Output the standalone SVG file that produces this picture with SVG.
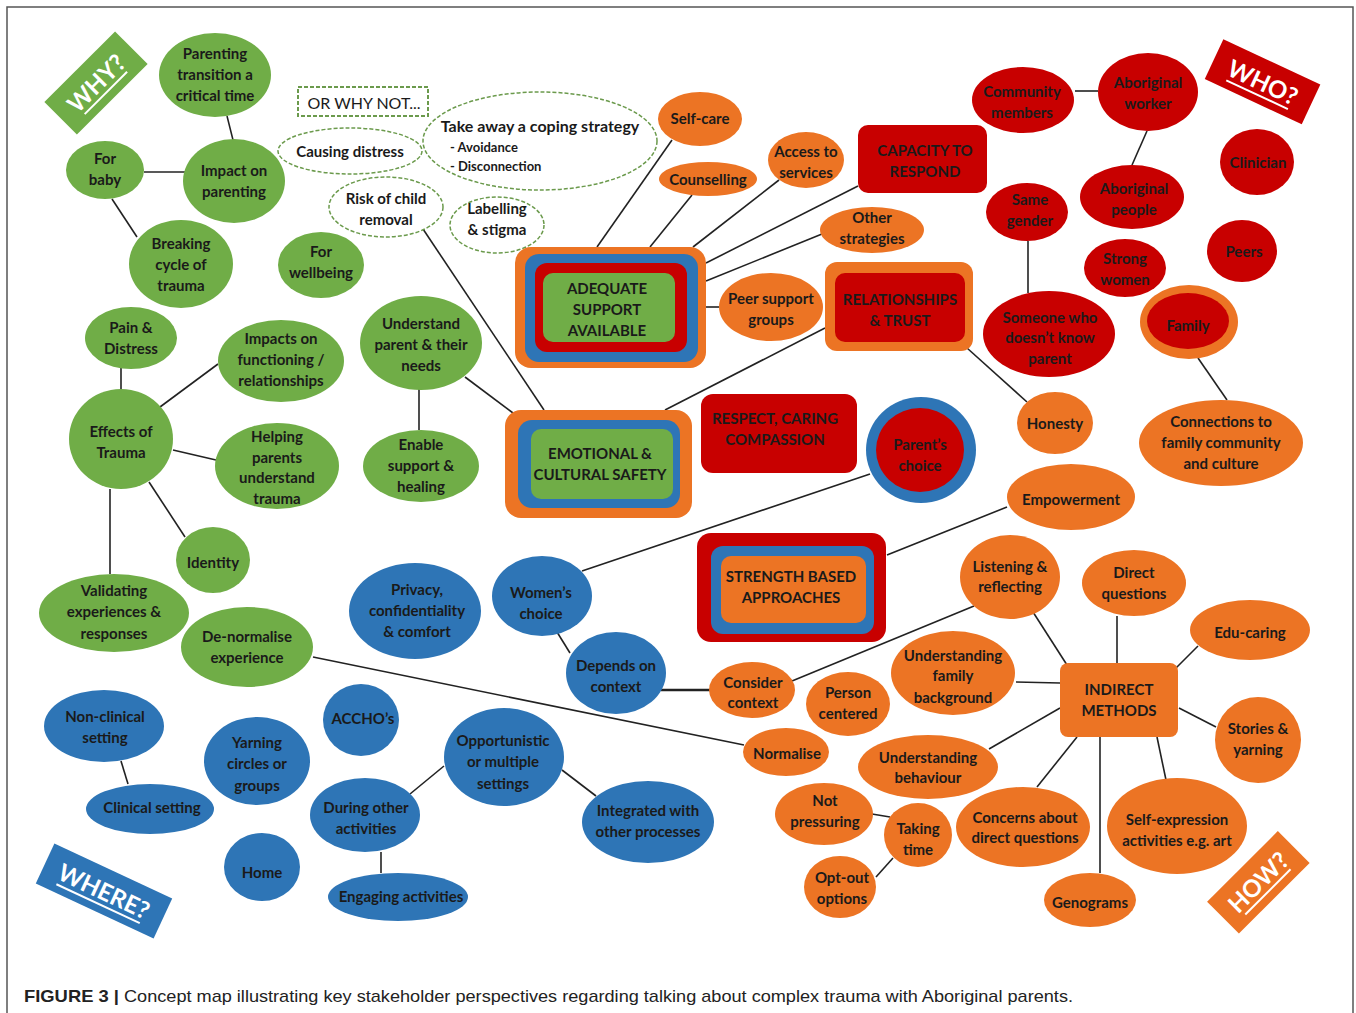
<svg xmlns="http://www.w3.org/2000/svg" width="1356" height="1013" viewBox="0 0 1356 1013">
<style>
.g{fill:#70AD47}
.o{fill:#EC7424}
.r{fill:#C80000}
.b{fill:#2E75B6}
.d{fill:#fff;stroke:#6B9A4C;stroke-width:1.5;stroke-dasharray:4 2}
.t{font-family:Lato,"Open Sans",sans-serif;font-weight:bold;font-size:15px;fill:#1a1a1a;text-anchor:middle}
.s{font-family:Lato,"Open Sans",sans-serif;font-weight:bold;font-size:13px;fill:#1a1a1a}
.bn{font-family:Lato,"Open Sans",sans-serif;font-weight:bold;font-size:24px;fill:#fff;text-anchor:middle}
.ul{stroke:#fff;stroke-width:2}
#connectors line{stroke:#222;stroke-width:1.6}
.cap{font-family:"Liberation Sans",Arial,sans-serif;font-size:17px;fill:#222}
</style>
<rect width="1356" height="1013" fill="#fff"/>
<path d="M7,1013 V7 H1353 V1013" fill="none" stroke="#555" stroke-width="1.5"/>

<g id="connectors">
<line x1="227" y1="116" x2="233" y2="140"/>
<line x1="144" y1="172" x2="185" y2="172"/>
<line x1="112" y1="199" x2="137" y2="237"/>
<line x1="121" y1="368" x2="121" y2="389"/>
<line x1="160" y1="407" x2="218" y2="364"/>
<line x1="173" y1="450" x2="216" y2="460"/>
<line x1="149" y1="482" x2="185" y2="537"/>
<line x1="110" y1="489" x2="110" y2="574"/>
<line x1="419" y1="389" x2="419" y2="430"/>
<line x1="465" y1="377" x2="513" y2="413"/>
<line x1="423" y1="229" x2="544" y2="410"/>
<line x1="825" y1="328" x2="665" y2="410"/>
<line x1="597" y1="247" x2="672" y2="140"/>
<line x1="650" y1="247" x2="692" y2="195"/>
<line x1="693" y1="247" x2="779" y2="180"/>
<line x1="706" y1="263" x2="858" y2="186"/>
<line x1="706" y1="281" x2="822" y2="234"/>
<line x1="706" y1="307" x2="719" y2="307"/>
<line x1="967" y1="348" x2="1027" y2="402"/>
<line x1="1075" y1="91" x2="1098" y2="91"/>
<line x1="1147" y1="131" x2="1132" y2="165"/>
<line x1="1028" y1="241" x2="1028" y2="293"/>
<line x1="1198" y1="358" x2="1227" y2="400"/>
<line x1="582" y1="571" x2="870" y2="474"/>
<line x1="887" y1="555" x2="1007" y2="507"/>
<line x1="557" y1="632" x2="570" y2="653"/>
<line x1="661" y1="690" x2="710" y2="690" style="stroke-width:2.5"/>
<line x1="792" y1="681" x2="974" y2="606"/>
<line x1="313" y1="657" x2="744" y2="745"/>
<line x1="1033" y1="612" x2="1067" y2="665"/>
<line x1="1117" y1="616" x2="1117" y2="663"/>
<line x1="1198" y1="646" x2="1176" y2="668"/>
<line x1="1016" y1="682" x2="1060" y2="683"/>
<line x1="989" y1="749" x2="1060" y2="708"/>
<line x1="1037" y1="787" x2="1077" y2="737"/>
<line x1="1100" y1="737" x2="1100" y2="873"/>
<line x1="1166" y1="780" x2="1157" y2="737"/>
<line x1="1216" y1="727" x2="1179" y2="708"/>
<line x1="872" y1="814" x2="890" y2="817"/>
<line x1="893" y1="858" x2="876" y2="877"/>
<line x1="121" y1="761" x2="128" y2="784"/>
<line x1="410" y1="794" x2="444" y2="766"/>
<line x1="381" y1="852" x2="381" y2="873"/>
<line x1="562" y1="770" x2="596" y2="796"/>
</g>

<!-- WHY cluster -->
<g id="why-banner" transform="translate(96,83) rotate(-45)"><rect class="g" x="-50" y="-23" width="100" height="46"/><text class="bn" x="0" y="9">WHY?</text><line class="ul" x1="-30" y1="14" x2="30" y2="14"/></g>
<g id="parenting-transition"><ellipse class="g" cx="215" cy="75" rx="56" ry="42"/><text class="t"><tspan x="215" y="59">Parenting</tspan><tspan x="215" y="80">transition a</tspan><tspan x="215" y="101">critical time</tspan></text></g>
<g id="impact-parenting"><ellipse class="g" cx="234" cy="181" rx="51" ry="42"/><text class="t"><tspan x="234" y="176">Impact on</tspan><tspan x="234" y="197">parenting</tspan></text></g>
<g id="for-baby"><ellipse class="g" cx="105" cy="170" rx="39" ry="29"/><text class="t"><tspan x="105" y="164">For</tspan><tspan x="105" y="185">baby</tspan></text></g>
<g id="breaking-cycle"><ellipse class="g" cx="181" cy="264" rx="52" ry="44"/><text class="t"><tspan x="181" y="249">Breaking</tspan><tspan x="181" y="270">cycle of</tspan><tspan x="181" y="291">trauma</tspan></text></g>
<g id="for-wellbeing"><ellipse class="g" cx="321" cy="265" rx="43" ry="33"/><text class="t"><tspan x="321" y="257">For</tspan><tspan x="321" y="278">wellbeing</tspan></text></g>
<g id="pain-distress"><ellipse class="g" cx="131" cy="338" rx="46" ry="31"/><text class="t"><tspan x="131" y="333">Pain &amp;</tspan><tspan x="131" y="354">Distress</tspan></text></g>
<g id="impacts-functioning"><ellipse class="g" cx="281" cy="361" rx="63" ry="41"/><text class="t"><tspan x="281" y="344">Impacts on</tspan><tspan x="281" y="365">functioning /</tspan><tspan x="281" y="386">relationships</tspan></text></g>
<g id="effects-trauma"><ellipse class="g" cx="121" cy="439" rx="52" ry="50"/><text class="t"><tspan x="121" y="437">Effects of</tspan><tspan x="121" y="458">Trauma</tspan></text></g>
<g id="helping-parents"><ellipse class="g" cx="277" cy="466" rx="62" ry="43"/><text class="t"><tspan x="277" y="442">Helping</tspan><tspan x="277" y="463">parents</tspan><tspan x="277" y="483">understand</tspan><tspan x="277" y="504">trauma</tspan></text></g>
<g id="understand-parent"><ellipse class="g" cx="421" cy="343" rx="61" ry="47"/><text class="t"><tspan x="421" y="329">Understand</tspan><tspan x="421" y="350">parent &amp; their</tspan><tspan x="421" y="371">needs</tspan></text></g>
<g id="enable-support"><ellipse class="g" cx="421" cy="466" rx="58" ry="36"/><text class="t"><tspan x="421" y="450">Enable</tspan><tspan x="421" y="471">support &amp;</tspan><tspan x="421" y="492">healing</tspan></text></g>
<g id="identity"><ellipse class="g" cx="213" cy="560" rx="37" ry="33"/><text class="t" x="213" y="568">Identity</text></g>
<g id="validating"><ellipse class="g" cx="114" cy="613" rx="75" ry="39"/><text class="t"><tspan x="114" y="596">Validating</tspan><tspan x="114" y="617">experiences &amp;</tspan><tspan x="114" y="639">responses</tspan></text></g>
<g id="de-normalise"><ellipse class="g" cx="247" cy="647" rx="66" ry="40"/><text class="t"><tspan x="247" y="642">De-normalise</tspan><tspan x="247" y="663">experience</tspan></text></g>

<!-- OR WHY NOT -->
<g id="or-why-not"><rect class="d" x="298" y="87" width="130" height="29" style="stroke-width:2"/><text x="364" y="109" style="font-family:Lato,'Open Sans',sans-serif;font-size:16px;fill:#1a1a1a;text-anchor:middle">OR WHY NOT...</text></g>
<g id="causing-distress"><ellipse class="d" cx="350" cy="151" rx="72" ry="23"/><text class="t" x="350" y="157">Causing distress</text></g>
<g id="take-away"><ellipse class="d" cx="540" cy="141" rx="117" ry="49"/><text class="t" x="540" y="132" style="font-size:16px">Take away a coping strategy</text><text class="s" x="450" y="152">- Avoidance</text><text class="s" x="450" y="171">- Disconnection</text></g>
<g id="risk-removal"><ellipse class="d" cx="386" cy="207" rx="57" ry="30"/><text class="t"><tspan x="386" y="204">Risk of child</tspan><tspan x="386" y="225">removal</tspan></text></g>
<g id="labelling-stigma"><ellipse class="d" cx="497" cy="225" rx="47" ry="28"/><text class="t"><tspan x="497" y="214">Labelling</tspan><tspan x="497" y="235">&amp; stigma</tspan></text></g>

<!-- Central boxes -->
<g id="adequate-support"><rect class="o" x="515" y="247" width="191" height="121" rx="16"/><rect class="b" x="525" y="254" width="173" height="108" rx="14"/><rect class="r" x="535" y="263" width="152" height="89" rx="12"/><rect class="g" x="543" y="273" width="132" height="69" rx="10"/><text class="t"><tspan x="607" y="294">ADEQUATE</tspan><tspan x="607" y="315">SUPPORT</tspan><tspan x="607" y="336">AVAILABLE</tspan></text></g>
<g id="emotional-safety"><rect class="o" x="505" y="410" width="187" height="108" rx="16"/><rect class="b" x="518" y="420" width="162" height="88" rx="14"/><rect class="g" x="531" y="429" width="142" height="70" rx="10"/><text class="t"><tspan x="600" y="459">EMOTIONAL &amp;</tspan><tspan x="600" y="480">CULTURAL SAFETY</tspan></text></g>
<g id="strength-based"><rect class="r" x="697" y="533" width="189" height="109" rx="14"/><rect class="b" x="711" y="546" width="163" height="88" rx="12"/><rect class="o" x="721" y="556" width="145" height="67" rx="10"/><text class="t"><tspan x="791" y="582">STRENGTH BASED</tspan><tspan x="791" y="603">APPROACHES</tspan></text></g>
<g id="respect-caring"><rect class="r" x="701" y="394" width="156" height="79" rx="12"/><text class="t"><tspan x="775" y="424">RESPECT, CARING</tspan><tspan x="775" y="445">COMPASSION</tspan></text></g>
<g id="parents-choice"><ellipse class="b" cx="921" cy="450" rx="55" ry="53"/><ellipse class="r" cx="920" cy="450" rx="44" ry="42"/><text class="t"><tspan x="920" y="450">Parent’s</tspan><tspan x="920" y="471">choice</tspan></text></g>
<g id="capacity-respond"><rect class="r" x="858" y="125" width="129" height="68" rx="10"/><text class="t"><tspan x="925" y="156">CAPACITY TO</tspan><tspan x="925" y="177">RESPOND</tspan></text></g>
<g id="relationships-trust"><rect class="o" x="825" y="262" width="148" height="89" rx="12"/><rect class="r" x="835" y="273" width="130" height="69" rx="10"/><text class="t"><tspan x="900" y="305">RELATIONSHIPS</tspan><tspan x="900" y="326">&amp; TRUST</tspan></text></g>

<!-- Orange satellites -->
<g id="self-care"><ellipse class="o" cx="700" cy="119" rx="42" ry="27"/><text class="t" x="700" y="124">Self-care</text></g>
<g id="counselling"><ellipse class="o" cx="708" cy="179" rx="49" ry="17"/><text class="t" x="708" y="185">Counselling</text></g>
<g id="access-services"><ellipse class="o" cx="806" cy="160" rx="38" ry="28"/><text class="t"><tspan x="806" y="157">Access to</tspan><tspan x="806" y="178">services</tspan></text></g>
<g id="other-strategies"><ellipse class="o" cx="872" cy="230" rx="52" ry="23"/><text class="t"><tspan x="872" y="223">Other</tspan><tspan x="872" y="244">strategies</tspan></text></g>
<g id="peer-support"><ellipse class="o" cx="771" cy="307" rx="52" ry="34"/><text class="t"><tspan x="771" y="304">Peer support</tspan><tspan x="771" y="325">groups</tspan></text></g>
<g id="honesty"><ellipse class="o" cx="1055" cy="423" rx="38" ry="31"/><text class="t" x="1055" y="429">Honesty</text></g>
<g id="connections"><ellipse class="o" cx="1221" cy="443" rx="82" ry="43"/><text class="t"><tspan x="1221" y="427">Connections to</tspan><tspan x="1221" y="448">family community</tspan><tspan x="1221" y="469">and culture</tspan></text></g>
<g id="empowerment"><ellipse class="o" cx="1071" cy="497" rx="64" ry="33"/><text class="t" x="1071" y="505">Empowerment</text></g>
<g id="listening"><ellipse class="o" cx="1010" cy="577" rx="50" ry="42"/><text class="t"><tspan x="1010" y="572">Listening &amp;</tspan><tspan x="1010" y="592">reflecting</tspan></text></g>
<g id="direct-questions"><ellipse class="o" cx="1134" cy="583" rx="52" ry="33"/><text class="t"><tspan x="1134" y="578">Direct</tspan><tspan x="1134" y="599">questions</tspan></text></g>
<g id="edu-caring"><ellipse class="o" cx="1250" cy="630" rx="60" ry="30"/><text class="t" x="1250" y="638">Edu-caring</text></g>
<g id="indirect-methods"><rect class="o" x="1060" y="663" width="118" height="74" rx="8"/><text class="t"><tspan x="1119" y="695">INDIRECT</tspan><tspan x="1119" y="716">METHODS</tspan></text></g>
<g id="understanding-family"><ellipse class="o" cx="953" cy="673" rx="62" ry="42"/><text class="t"><tspan x="953" y="661">Understanding</tspan><tspan x="953" y="681">family</tspan><tspan x="953" y="703">background</tspan></text></g>
<g id="person-centered"><ellipse class="o" cx="848" cy="704" rx="42" ry="32"/><text class="t"><tspan x="848" y="698">Person</tspan><tspan x="848" y="719">centered</tspan></text></g>
<g id="consider-context"><ellipse class="o" cx="752" cy="690" rx="43" ry="28"/><text class="t"><tspan x="753" y="688">Consider</tspan><tspan x="753" y="708">context</tspan></text></g>
<g id="normalise"><ellipse class="o" cx="786" cy="752" rx="43" ry="24"/><text class="t" x="787" y="759">Normalise</text></g>
<g id="understanding-behaviour"><ellipse class="o" cx="928" cy="767" rx="70" ry="32"/><text class="t"><tspan x="928" y="763">Understanding</tspan><tspan x="928" y="783">behaviour</tspan></text></g>
<g id="not-pressuring"><ellipse class="o" cx="824" cy="814" rx="49" ry="31"/><text class="t"><tspan x="825" y="806">Not</tspan><tspan x="825" y="827">pressuring</tspan></text></g>
<g id="taking-time"><ellipse class="o" cx="918" cy="835" rx="34" ry="32"/><text class="t"><tspan x="918" y="834">Taking</tspan><tspan x="918" y="855">time</tspan></text></g>
<g id="opt-out"><ellipse class="o" cx="840" cy="887" rx="36" ry="31"/><text class="t"><tspan x="842" y="883">Opt-out</tspan><tspan x="842" y="904">options</tspan></text></g>
<g id="concerns"><ellipse class="o" cx="1023" cy="827" rx="67" ry="40"/><text class="t"><tspan x="1025" y="823">Concerns about</tspan><tspan x="1025" y="843">direct questions</tspan></text></g>
<g id="genograms"><ellipse class="o" cx="1090" cy="900" rx="46" ry="27"/><text class="t" x="1090" y="908">Genograms</text></g>
<g id="self-expression"><ellipse class="o" cx="1177" cy="826" rx="70" ry="48"/><text class="t"><tspan x="1177" y="825">Self-expression</tspan><tspan x="1177" y="846">activities e.g. art</tspan></text></g>
<g id="stories-yarning"><ellipse class="o" cx="1258" cy="740" rx="43" ry="43"/><text class="t"><tspan x="1258" y="734">Stories &amp;</tspan><tspan x="1258" y="755">yarning</tspan></text></g>
<g id="how-banner" transform="translate(1258,882) rotate(-45)"><rect class="o" x="-50" y="-22" width="100" height="45"/><text class="bn" x="0" y="9">HOW?</text><line class="ul" x1="-32" y1="14" x2="32" y2="14"/></g>

<!-- WHO cluster -->
<g id="who-banner" transform="translate(1263,82) rotate(25)"><rect class="r" x="-54" y="-22" width="107" height="44"/><text class="bn" x="0" y="9">WHO?</text><line class="ul" x1="-34" y1="14" x2="34" y2="14"/></g>
<g id="community-members"><ellipse class="r" cx="1023" cy="100" rx="51" ry="33"/><text class="t"><tspan x="1022" y="97">Community</tspan><tspan x="1022" y="118">members</tspan></text></g>
<g id="aboriginal-worker"><ellipse class="r" cx="1148" cy="92" rx="50" ry="39"/><text class="t"><tspan x="1148" y="88">Aboriginal</tspan><tspan x="1148" y="109">worker</tspan></text></g>
<g id="clinician"><ellipse class="r" cx="1257" cy="162" rx="37" ry="33"/><text class="t" x="1258" y="168">Clinician</text></g>
<g id="same-gender"><ellipse class="r" cx="1027" cy="212" rx="41" ry="29"/><text class="t"><tspan x="1030" y="205">Same</tspan><tspan x="1030" y="226">gender</tspan></text></g>
<g id="aboriginal-people"><ellipse class="r" cx="1132" cy="197" rx="52" ry="32"/><text class="t"><tspan x="1134" y="194">Aboriginal</tspan><tspan x="1134" y="215">people</tspan></text></g>
<g id="strong-women"><ellipse class="r" cx="1125" cy="268" rx="41" ry="29"/><text class="t"><tspan x="1125" y="264">Strong</tspan><tspan x="1125" y="285">women</tspan></text></g>
<g id="peers"><ellipse class="r" cx="1242" cy="251" rx="35" ry="31"/><text class="t" x="1244" y="257">Peers</text></g>
<g id="someone"><ellipse class="r" cx="1049" cy="334" rx="66" ry="43"/><text class="t"><tspan x="1050" y="323">Someone who</tspan><tspan x="1050" y="343">doesn’t know</tspan><tspan x="1050" y="364">parent</tspan></text></g>
<g id="family"><ellipse class="o" cx="1189" cy="322" rx="49" ry="37"/><ellipse class="r" cx="1188" cy="321" rx="41" ry="28"/><text class="t" x="1188" y="331">Family</text></g>

<!-- WHERE cluster -->
<g id="privacy"><ellipse class="b" cx="415" cy="611" rx="66" ry="48"/><text class="t"><tspan x="417" y="595">Privacy,</tspan><tspan x="417" y="616">confidentiality</tspan><tspan x="417" y="637">&amp; comfort</tspan></text></g>
<g id="womens-choice"><ellipse class="b" cx="542" cy="596" rx="50" ry="40"/><text class="t"><tspan x="541" y="598">Women’s</tspan><tspan x="541" y="619">choice</tspan></text></g>
<g id="depends-context"><ellipse class="b" cx="616" cy="673" rx="50" ry="41"/><text class="t"><tspan x="616" y="671">Depends on</tspan><tspan x="616" y="692">context</tspan></text></g>
<g id="non-clinical"><ellipse class="b" cx="104" cy="726" rx="60" ry="36"/><text class="t"><tspan x="105" y="722">Non-clinical</tspan><tspan x="105" y="743">setting</tspan></text></g>
<g id="clinical"><ellipse class="b" cx="150" cy="809" rx="64" ry="25"/><text class="t" x="152" y="813">Clinical setting</text></g>
<g id="yarning-circles"><ellipse class="b" cx="257" cy="761" rx="53" ry="44"/><text class="t"><tspan x="257" y="748">Yarning</tspan><tspan x="257" y="769">circles or</tspan><tspan x="257" y="791">groups</tspan></text></g>
<g id="acchos"><ellipse class="b" cx="361" cy="720" rx="38" ry="36"/><text class="t" x="363" y="724">ACCHO’s</text></g>
<g id="home"><ellipse class="b" cx="262" cy="867" rx="38" ry="34"/><text class="t" x="262" y="878">Home</text></g>
<g id="during-other"><ellipse class="b" cx="365" cy="815" rx="55" ry="37"/><text class="t"><tspan x="366" y="813">During other</tspan><tspan x="366" y="834">activities</tspan></text></g>
<g id="engaging"><ellipse class="b" cx="398" cy="897" rx="70" ry="24"/><text class="t" x="401" y="902">Engaging activities</text></g>
<g id="opportunistic"><ellipse class="b" cx="504" cy="757" rx="60" ry="49"/><text class="t"><tspan x="503" y="746">Opportunistic</tspan><tspan x="503" y="767">or multiple</tspan><tspan x="503" y="789">settings</tspan></text></g>
<g id="integrated"><ellipse class="b" cx="648" cy="822" rx="66" ry="41"/><text class="t"><tspan x="648" y="816">Integrated with</tspan><tspan x="648" y="837">other processes</tspan></text></g>
<g id="where-banner" transform="translate(104,891) rotate(25)"><rect class="b" x="-65" y="-22" width="130" height="44"/><text class="bn" x="0" y="9">WHERE?</text><line class="ul" x1="-46" y1="14" x2="46" y2="14"/></g>

<!-- Caption -->
<text class="cap" x="24" y="1002" style="font-weight:bold" textLength="95" lengthAdjust="spacingAndGlyphs">FIGURE 3 |</text>
<text class="cap" x="124" y="1002" textLength="949" lengthAdjust="spacingAndGlyphs">Concept map illustrating key stakeholder perspectives regarding talking about complex trauma with Aboriginal parents.</text>
</svg>
